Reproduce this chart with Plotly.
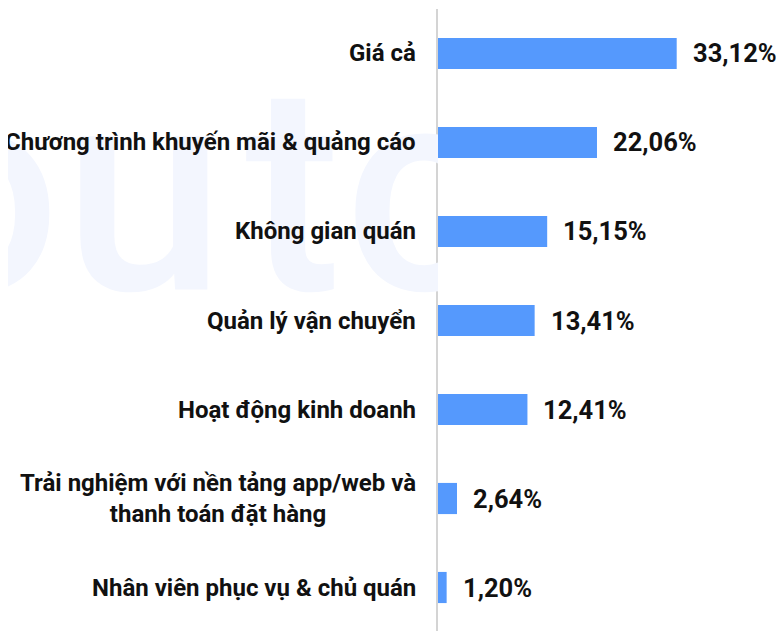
import plotly.graph_objects as go

categories = [
    "Giá cả",
    "Chương trình khuyến mãi & quảng cáo",
    "Không gian quán",
    "Quản lý vận chuyển",
    "Hoạt động kinh doanh",
    "Trải nghiệm với nền tảng app/web và<br>thanh toán đặt hàng",
    "Nhân viên phục vụ & chủ quán",
]
values = [33.12, 22.06, 15.15, 13.41, 12.41, 2.64, 1.20]
value_labels = [f"{v:.2f}".replace(".", ",") + "%" for v in values]

# decorative watermark letters (screen pixel units of the left panel)
wm_letters = ["o", "u", "t", "c"]
wm_x = [-22, 144, 293, 420]
wm_y = [217, 217, 217, 217]

W, H = 784, 631
OFF = 8                 # page body margin offset
AXIS_X = 438 - OFF      # axis position in figure pixels
split = AXIS_X / W
PX_PER_UNIT = 7.207     # pixels per percent
xmax = (W - AXIS_X) / PX_PER_UNIT

fig = go.Figure()

# watermark (clipped to left panel)
fig.add_trace(go.Scatter(
    x=wm_x, y=wm_y, text=wm_letters, mode="text",
    textposition="middle center",
    textfont=dict(family="Roboto", size=290, color="#f3f6fe", weight=500),
    xaxis="x2", yaxis="y2", cliponaxis=True, hoverinfo="skip", showlegend=False,
))

fig.add_trace(go.Bar(
    x=values, y=categories, orientation="h",
    marker=dict(color="#5599fd", line=dict(width=0)),
    width=0.35, hoverinfo="skip", showlegend=False,
))

annotations = []
for c, v, t in zip(categories, values, value_labels):
    annotations.append(dict(
        x=v, y=c, xref="x", yref="y", text=t, showarrow=False,
        xanchor="left", yanchor="middle", xshift=14,
        font=dict(family="Roboto", size=25.5, color="#111111", weight="bold"),
    ))
    annotations.append(dict(
        x=split, y=c, xref="paper", yref="y", text=c, showarrow=False,
        xanchor="right", yanchor="middle", xshift=-20, align="center",
        font=dict(family="Roboto", size=24, color="#111111", weight="bold"),
    ))

fig.update_layout(
    width=W, height=H,
    margin=dict(l=0, r=0, t=0, b=0),
    paper_bgcolor="white", plot_bgcolor="rgba(0,0,0,0)",
    xaxis=dict(domain=[split, 1], range=[0, xmax],
               showgrid=False, zeroline=False,
               showticklabels=False, showline=False, fixedrange=True),
    yaxis=dict(domain=[7 / H, 1 - 1 / H], categoryorder="array", categoryarray=categories,
               autorange="reversed", showgrid=False, zeroline=False, showticklabels=False,
               showline=True, linecolor="#d4d4d4", linewidth=2, fixedrange=True),
    xaxis2=dict(domain=[0, split], range=[OFF, AXIS_X + OFF], visible=False, anchor="y2"),
    yaxis2=dict(domain=[0, 1], range=[H + OFF, OFF], visible=False, anchor="x2"),
    annotations=annotations,
    bargap=0.65,
)

fig.write_html("out.html")
